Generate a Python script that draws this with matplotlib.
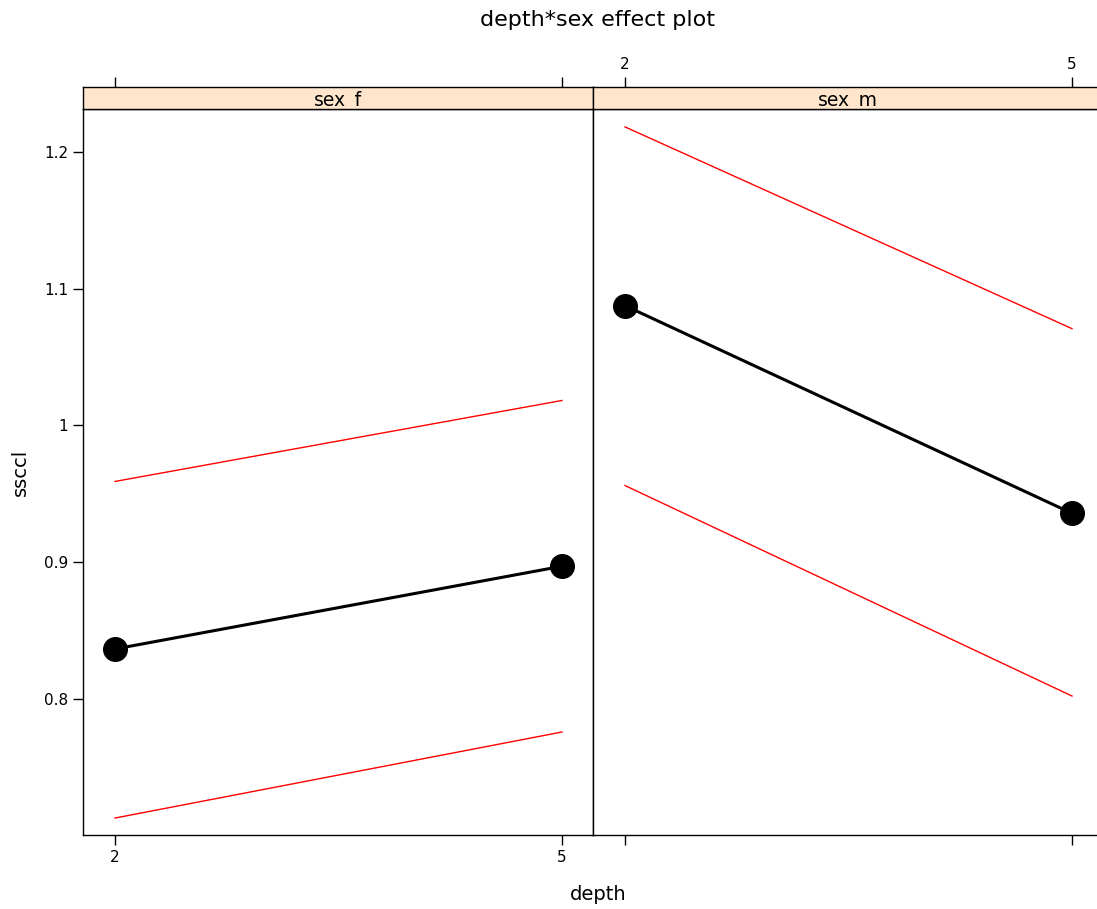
import matplotlib
matplotlib.use("Agg")
import matplotlib.pyplot as plt
from matplotlib.patches import Rectangle

# Effect estimates of ssccl by depth, one panel per sex
depth = [2, 5]
panels = ["sex_f", "sex_m"]
fit = {"sex_f": [0.8366, 0.8971], "sex_m": [1.0876, 0.9358]}
upper = {"sex_f": [0.9591, 1.0183], "sex_m": [1.2183, 1.0708]}
lower = {"sex_f": [0.7130, 0.7759], "sex_m": [0.9561, 0.8022]}
y_ticks = [0.8, 0.9, 1.0, 1.1, 1.2]
y_tick_labels = ["0.8", "0.9", "1", "1.1", "1.2"]
x_ticks = [2, 5]

W, H = 1097, 909
fig = plt.figure(figsize=(W / 100, H / 100), dpi=100)

def fx(px):
    return px / W

def fy(py):
    return 1 - py / H

left, panel_w = 83, 510
top, bottom, strip_top = 109, 835, 87
xlim = (1.785, 5.208)
ylim = (0.7006, 1.2314)

for i, name in enumerate(panels):
    x0 = left + i * panel_w
    ax = fig.add_axes([fx(x0), fy(bottom), fx(panel_w), (bottom - top) / H])
    ax.set_xlim(*xlim)
    ax.set_ylim(*ylim)
    ax.plot(depth, upper[name], color="red", lw=1.0)
    ax.plot(depth, lower[name], color="red", lw=1.0)
    ax.plot(depth, fit[name], color="black", lw=2.2, marker="o",
            markersize=17, markerfacecolor="black", markeredgecolor="black")
    for sp in ax.spines.values():
        sp.set_linewidth(1.0)
    ax.set_xticks(x_ticks)
    ax.tick_params(axis="x", direction="out", length=7, width=1.0, labelsize=11,
                   top=False, bottom=True, labeltop=False, labelbottom=(i == 0))
    if i == 0:
        ax.set_yticks(y_ticks)
        ax.set_yticklabels(y_tick_labels)
        ax.tick_params(axis="y", direction="out", length=7, width=1.0, labelsize=11)
    else:
        ax.set_yticks([])

    # strip with panel label; top tick marks sit above it
    sax = fig.add_axes([fx(x0), fy(top), fx(panel_w), (top - strip_top) / H])
    sax.add_patch(Rectangle((0, 0), 1, 1, transform=sax.transAxes,
                            facecolor="#ffe5cc", edgecolor="none"))
    sax.set_yticks([])
    for sp in sax.spines.values():
        sp.set_linewidth(1.0)
    sax.text(0.5, 0.36, name, ha="center", va="center", fontsize=13.5,
             transform=sax.transAxes, clip_on=True, zorder=1)
    sax.set_xlim(*xlim)
    sax.set_xticks(x_ticks)
    sax.tick_params(axis="x", direction="out", length=7, width=1.0, labelsize=11,
                    top=True, bottom=False, labeltop=(i == 1), labelbottom=False)

fig.text(fx(598), fy(20), "depth*sex effect plot", ha="center", va="center",
         fontsize=16)
fig.text(fx(598), fy(894), "depth", ha="center", va="center", fontsize=14)
fig.text(fx(20), fy(472), "ssccl", ha="center", va="center", fontsize=14,
         rotation=90)

fig.savefig("out.png", dpi=100)
